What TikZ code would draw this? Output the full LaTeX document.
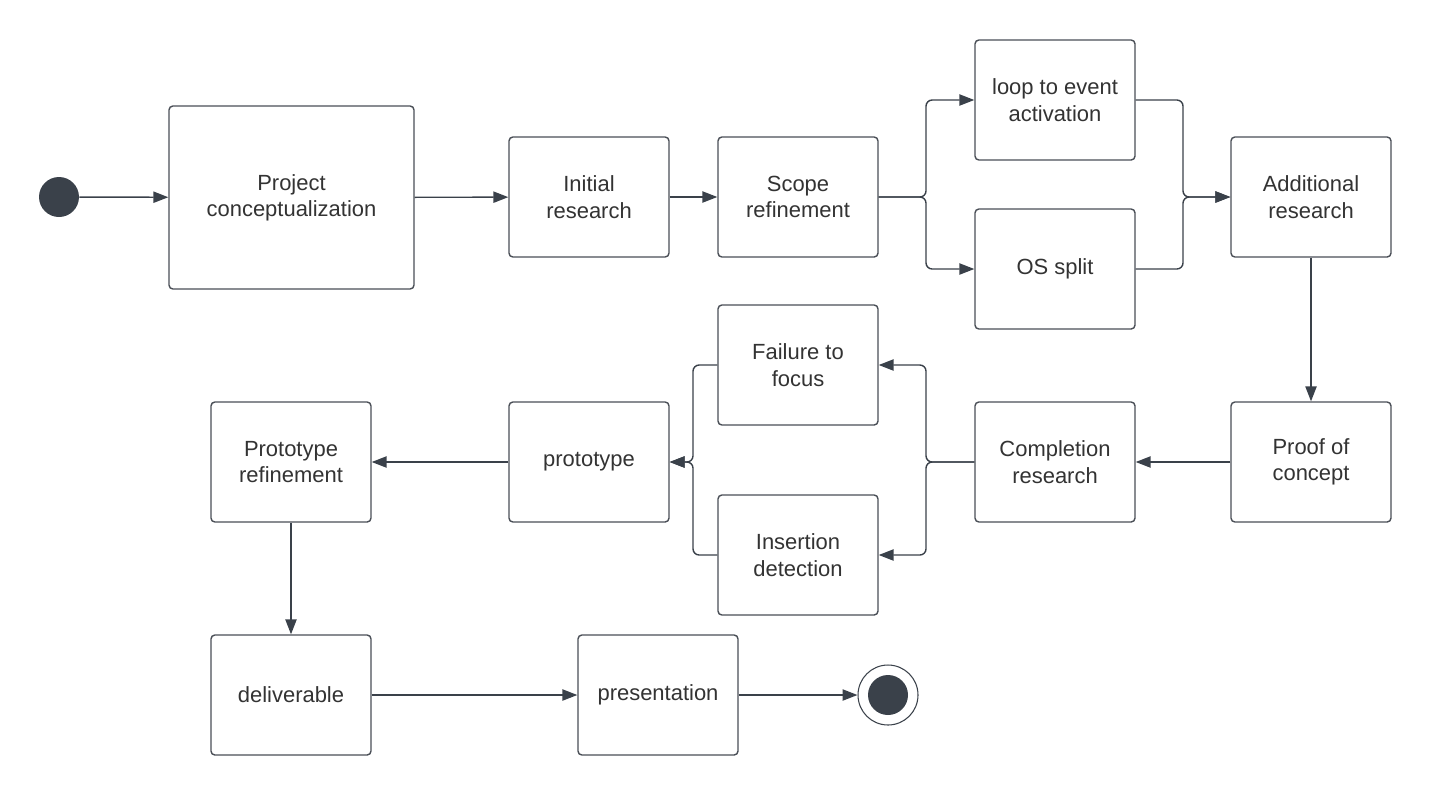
\documentclass[tikz,border=0pt]{standalone}
\usepackage{fontspec}
\setmainfont{Liberation Sans}
\usetikzlibrary{arrows.meta}
\definecolor{ink}{HTML}{3A414A}
\definecolor{txt}{HTML}{333333}
\definecolor{edge}{HTML}{4A4F57}
\tikzset{
  stepbox/.style={draw=edge, line width=0.8pt, rounded corners=2.2pt, fill=white,
    minimum width=3.2cm, minimum height=2.4cm, align=center, text=txt,
    font=\fontsize{12.5}{15}\selectfont, inner sep=0pt},
  conn/.style={draw=ink, line width=0.8pt, -{Triangle[length=8.5pt,width=6.4pt]}, rounded corners=3.5pt},
  plain/.style={draw=ink, line width=0.8pt, rounded corners=3.5pt},
}
\begin{document}
\begin{tikzpicture}[x=0.02cm,y=-0.02cm]
\useasboundingbox (0,0) rectangle (1432,795);
\node[circle, fill=ink, minimum size=0.8cm, inner sep=0pt] (start) at (59,197) {};
\node[stepbox, minimum width=4.9cm, minimum height=3.66cm] (proj) at (291.5,197.5) {Project\\conceptualization};
\node[stepbox] (init) at (589,197) {Initial\\research};
\node[stepbox] (scope) at (798,197) {Scope\\refinement};
\node[stepbox] (loop) at (1055,100) {loop to event\\activation};
\node[stepbox] (os) at (1055,269) {OS split};
\node[stepbox] (add) at (1311,197) {Additional\\research};
\node[stepbox] (poc) at (1311,462) {Proof of\\concept};
\node[stepbox] (comp) at (1055,462) {Completion\\research};
\node[stepbox] (fail) at (798,365) {Failure to\\focus};
\node[stepbox] (ins) at (798,555) {Insertion\\detection};
\node[stepbox] (proto) at (589,462) {prototype};
\node[stepbox] (pref) at (291,462) {Prototype\\refinement};
\node[stepbox] (deliv) at (291,695) {deliverable};
\node[stepbox] (pres) at (658,695) {presentation};
\node[circle, draw=ink, line width=0.6pt, minimum size=1.2cm, inner sep=0pt] (endo) at (888,695) {};
\node[circle, fill=ink, minimum size=0.8cm, inner sep=0pt] (endi) at (888,695) {};
\coordinate (j1) at (926,197);
\coordinate (j2) at (1183,197);
\coordinate (j3) at (926,462);
\coordinate (j4) at (693,462);
\draw[conn] (start) -- (proj);
\draw[conn] (proj) -- (init);
\draw[conn] (init) -- (scope);
\draw[conn] (scope.east) -- (j1) |- (loop.west);
\draw[conn] (scope.east) -- (j1) |- (os.west);
\draw[conn] (loop.east) -| (j2) -- (add.west);
\draw[conn] (os.east) -| (j2) -- (add.west);
\draw[conn] (add) -- (poc);
\draw[conn] (poc) -- (comp);
\draw[conn] (comp.west) -- (j3) |- (fail.east);
\draw[conn] (comp.west) -- (j3) |- (ins.east);
\draw[conn] (fail.west) -| (j4) -- (proto.east);
\draw[conn] (ins.west) -| (j4) -- (proto.east);
\draw[conn] (proto) -- (pref);
\draw[conn] (pref) -- (deliv);
\draw[conn] (deliv) -- (pres);
\draw[conn] (pres) -- (endo);
\end{tikzpicture}
\end{document}
